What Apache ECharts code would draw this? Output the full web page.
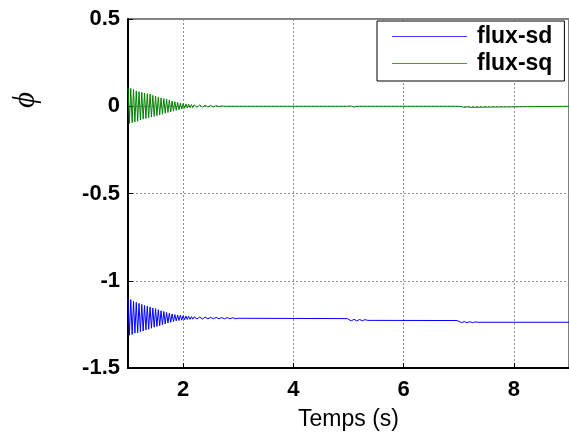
<!DOCTYPE html>
<html>
<head>
<meta charset="utf-8">
<script src="https://cdn.jsdelivr.net/npm/echarts@6/dist/echarts.min.js"></script>
<style>
  html, body { margin: 0; padding: 0; background: #fff; }
  #chart { width: 569px; height: 443px; }
</style>
</head>
<body>
<div id="chart"></div>
<script>
// Stator flux components (d and q) versus time

const seriesNames = ['flux-sd', 'flux-sq'];
const xTicks = [2, 4, 6, 8];

// dense start-up transient, sampled every 0.025 s from t = 1 s to 2.2 s
const denseStart = 1.0;
const denseStep = 0.025;
const fluxSdDense = [
  -1.100, -1.312, -1.108, -1.308, -1.118, -1.300, -1.124, -1.298, -1.130, -1.292,
  -1.136, -1.288, -1.142, -1.282, -1.146, -1.278, -1.150, -1.272, -1.156, -1.266,
  -1.160, -1.262, -1.166, -1.258, -1.172, -1.252, -1.176, -1.248, -1.182, -1.242,
  -1.186, -1.238, -1.190, -1.234, -1.194, -1.230, -1.196, -1.228, -1.198, -1.226,
  -1.200, -1.224, -1.202, -1.222, -1.204, -1.221, -1.206, -1.220, -1.207
];
const fluxSqDense = [
   0.108, -0.098,  0.102, -0.094,  0.096, -0.090,  0.088, -0.086,  0.084, -0.078,
   0.080, -0.074,  0.076, -0.070,  0.072, -0.066,  0.070, -0.062,  0.062, -0.058,
   0.058, -0.054,  0.052, -0.050,  0.048, -0.046,  0.044, -0.040,  0.040, -0.036,
   0.036, -0.032,  0.030, -0.028,  0.026, -0.024,  0.022, -0.020,  0.018, -0.016,
   0.016, -0.012,  0.014, -0.010,  0.012, -0.008,  0.010, -0.008,  0.008
];

// residual ripple after the transient
const timeSdTail = [2.25, 2.30, 2.35, 2.40, 2.45, 2.50, 2.55, 2.60, 2.65, 2.70, 2.75, 2.80, 2.85, 2.90, 2.95, 3.00];
const fluxSdTail = [-1.219, -1.208, -1.219, -1.209, -1.218, -1.210, -1.218, -1.210, -1.218, -1.211, -1.218, -1.211, -1.218, -1.212, -1.218, -1.215];
const timeSqTail = [2.25, 2.30, 2.35, 2.40, 2.45, 2.50, 2.55, 2.60, 2.65, 2.70];
const fluxSqTail = [-0.006, 0.007, -0.005, 0.006, -0.004, 0.005, -0.004, 0.004, -0.003, 0.002];

// steady state with the load steps at t = 5 s and t = 7 s
const timeSdLate = [3.05, 4.98, 5.00, 5.05, 5.10, 5.15, 5.20, 5.25, 5.30, 5.35, 6.97, 7.00, 7.05, 7.10, 7.15, 7.20, 7.25, 7.30, 7.35, 9.00];
const fluxSdLate = [-1.215, -1.217, -1.222, -1.230, -1.221, -1.230, -1.222, -1.229, -1.223, -1.227, -1.228, -1.233, -1.240, -1.234, -1.240, -1.235, -1.240, -1.236, -1.238, -1.238];
const timeSqLate = [2.75, 4.98, 5.00, 5.05, 5.10, 5.15, 6.97, 7.00, 7.05, 7.10, 7.15, 7.20, 9.00];
const fluxSqLate = [0.000, 0.000, -0.004, 0.001, -0.005, 0.000, 0.000, -0.006, -0.002, -0.007, -0.003, -0.006, 0.000];

function buildSeries(dense, tailT, tailV, lateT, lateV) {
  const pts = [];
  dense.forEach((v, i) => pts.push([+(denseStart + i * denseStep).toFixed(3), v]));
  tailT.forEach((t, i) => pts.push([t, tailV[i]]));
  lateT.forEach((t, i) => pts.push([t, lateV[i]]));
  return pts;
}

const sdData = buildSeries(fluxSdDense, timeSdTail, fluxSdTail, timeSdLate, fluxSdLate);
const sqData = buildSeries(fluxSqDense, timeSqTail, fluxSqTail, timeSqLate, fluxSqLate);

const FONT = '"Liberation Sans", Arial, sans-serif';
const gridLine = { show: true, lineStyle: { color: '#8c8c8c', type: [2, 2], width: 1 } };
const lineIcon = 'path://M0,0 L100,0 L100,1 L0,1 Z';

const chart = echarts.init(document.getElementById('chart'), null, { renderer: 'canvas' });
chart.setOption({
  animation: false,
  backgroundColor: '#fff',
  grid: {
    left: 128, right: -5, top: 19, bottom: 75,
    show: true, borderColor: '#000', borderWidth: 1, backgroundColor: 'transparent'
  },
  xAxis: {
    type: 'value', min: 1, max: 9,
    name: 'Temps (s)', nameLocation: 'middle', nameGap: 40,
    nameTextStyle: { fontFamily: FONT, fontSize: 23, color: '#000' },
    axisLine: { show: true, onZero: false, lineStyle: { color: '#000', width: 2 } },
    axisTick: { show: true, inside: true, length: 5, customValues: xTicks, lineStyle: { color: '#000' } },
    axisLabel: { customValues: xTicks, fontFamily: FONT, fontSize: 22, fontWeight: 'bold', color: '#000', margin: 11 },
    splitLine: gridLine
  },
  yAxis: {
    type: 'value', min: -1.5, max: 0.5, interval: 0.5,
    axisLine: { show: true, lineStyle: { color: '#000', width: 2 } },
    axisTick: { show: true, inside: true, length: 5, lineStyle: { color: '#000' } },
    axisLabel: { fontFamily: FONT, fontSize: 22, fontWeight: 'bold', color: '#000', margin: 8,
      formatter: v => String(v) },
    splitLine: gridLine
  },
  legend: {
    data: seriesNames.map(n => ({ name: n, icon: lineIcon })),
    orient: 'vertical', left: 377, top: 21,
    itemWidth: 75, itemHeight: 1.2, itemGap: 4,
    padding: [4, 12, 6, 15],
    backgroundColor: '#fff', borderColor: '#000', borderWidth: 1, borderRadius: 0,
    textStyle: { fontFamily: FONT, fontSize: 23, fontWeight: 'bold', color: '#000', padding: [0, 0, 0, 5] }
  },
  graphic: [{
    type: 'text', x: 26, y: 100, rotation: Math.PI / 2,
    style: { text: 'ϕ', font: 'italic 31px "Liberation Serif", "DejaVu Serif", serif', fill: '#000', align: 'center', verticalAlign: 'middle' }
  }],
  series: [
    { name: seriesNames[0], type: 'line', data: sdData, showSymbol: false, symbol: 'none',
      lineStyle: { color: '#0000ff', width: 1 }, itemStyle: { color: '#0000ff' } },
    { name: seriesNames[1], type: 'line', data: sqData, showSymbol: false, symbol: 'none',
      lineStyle: { color: '#008000', width: 1 }, itemStyle: { color: '#008000' } }
  ]
});
</script>
</body>
</html>
